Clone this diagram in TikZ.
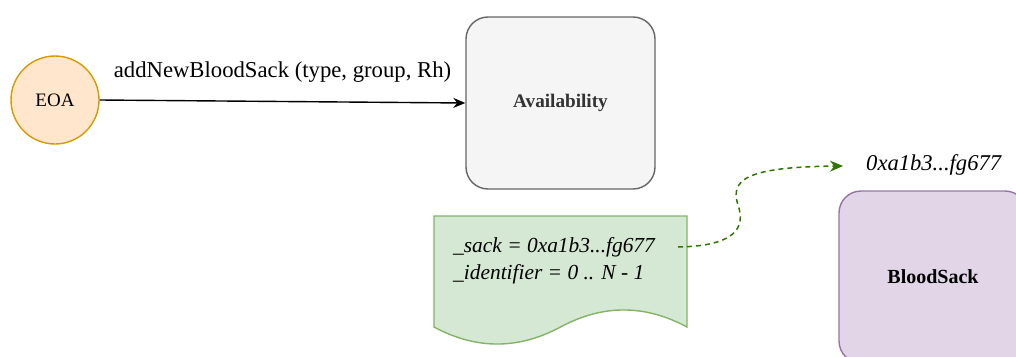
\documentclass[tikz,border=0pt]{standalone}
\usepackage{fontspec}
\setmainfont{Liberation Serif}
\usetikzlibrary{arrows.meta}
\definecolor{eoaFill}{HTML}{FFE6CC}
\definecolor{eoaLine}{HTML}{D79B00}
\definecolor{grayFill}{HTML}{F5F5F5}
\definecolor{grayLine}{HTML}{666666}
\definecolor{grayText}{HTML}{333333}
\definecolor{docFill}{HTML}{D5E8D4}
\definecolor{docLine}{HTML}{82B366}
\definecolor{sackFill}{HTML}{E1D5E7}
\definecolor{sackLine}{HTML}{9673A6}
\definecolor{linkGreen}{HTML}{2D7600}
\tikzset{
  actor/.style={circle, draw=eoaLine, fill=eoaFill, line width=1.4pt, minimum size=88pt, inner sep=0pt, font=\fontsize{19}{21}\selectfont},
  contractbox/.style={rounded corners=22pt, line width=1.4pt, inner sep=0pt},
  msg/.style={-{Stealth[length=12pt,width=10pt]}, line width=1.4pt},
  ref/.style={-{Stealth[length=13pt,width=11pt]}, draw=linkGreen, line width=1.5pt, dash pattern=on 5pt off 4pt},
  itext/.style={font=\fontsize{21.4}{27}\selectfont\itshape, inner sep=0pt}
}
\begin{document}
\begin{tikzpicture}[x=1pt,y=-1pt]
  \useasboundingbox (0,0) rectangle (1016,356);
  \clip (0,0) rectangle (1016,356);

  % caller
  \node[actor] (eoa) at (55,100) {EOA};

  % Availability contract
  \node[contractbox, draw=grayLine, fill=grayFill, text=grayText,
        font=\fontsize{19.2}{21}\selectfont\bfseries,
        minimum width=189pt, minimum height=172pt] (avail) at (560.5,103) {Availability};

  % BloodSack contract (runs past the lower right edge)
  \node[contractbox, draw=sackLine, fill=sackFill,
        font=\fontsize{20}{22}\selectfont\bfseries,
        minimum width=188pt, minimum height=172pt] (sack) at (933,277) {BloodSack};

  % call from the EOA
  \draw[msg] (eoa.east) -- node[above=18pt, font=\fontsize{22.7}{25}\selectfont, inner sep=0pt] (call) {addNewBloodSack (type, group, Rh)} (avail.west);

  % state document with wavy bottom
  \draw[draw=docLine, fill=docFill, line width=1.4pt]
    (434,216) -- (687,216) -- (687,327)
    .. controls (644.8,304.3) and (602.7,304.3) .. (560.5,327)
    .. controls (518.3,349.7) and (476.2,349.7) .. (434,327) -- cycle;
  \node[itext, anchor=north west, align=left] (state) at (453,237)
    {\_sack = 0xa1b3...fg677\\\_identifier = 0 .. N - 1};

  % address reference
  \node[itext, font=\fontsize{22.6}{27}\selectfont\itshape, anchor=west] (addr) at (866,165) {0xa1b3...fg677};
  \coordinate (addrIn) at (843,166);
  \coordinate (stateOut) at (678,247);
  \draw[ref] (stateOut) .. controls (735,246) and (746,228) .. (738,205)
    .. controls (730,180) and (745,167) .. (addrIn);
\end{tikzpicture}
\end{document}
